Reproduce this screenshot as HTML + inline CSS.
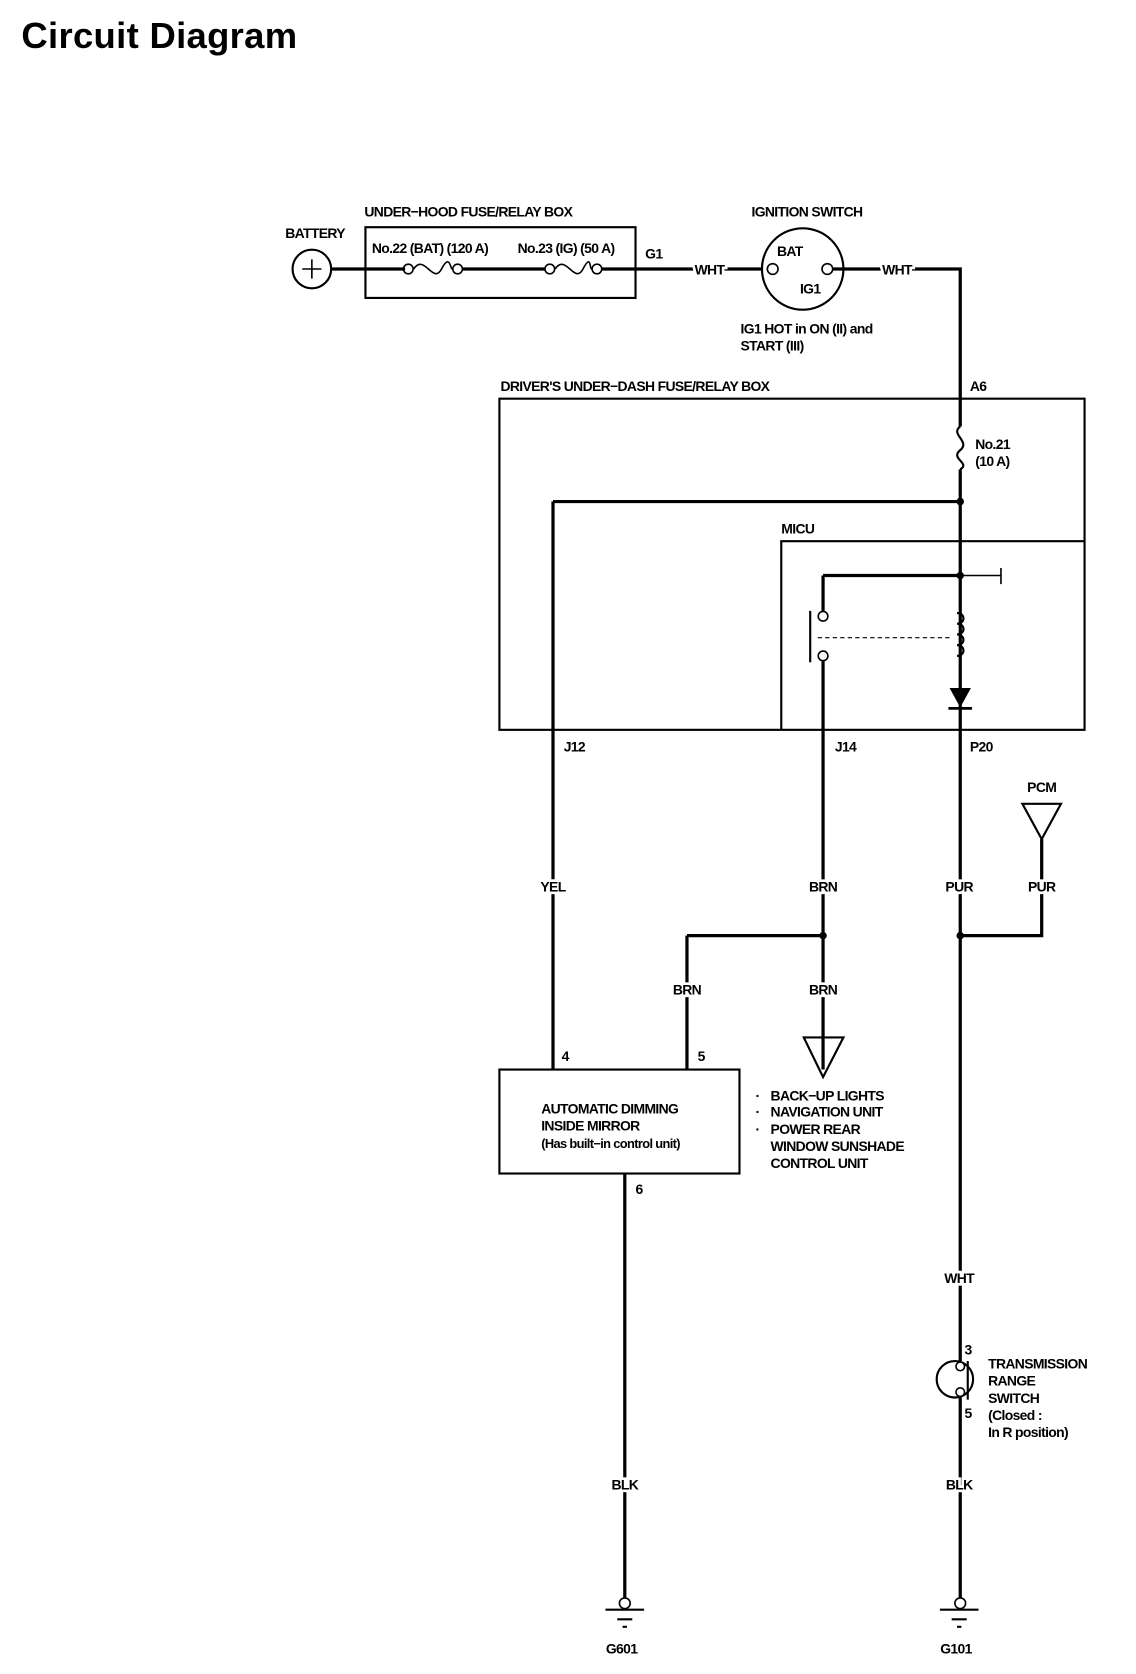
<!DOCTYPE html>
<html><head><meta charset="utf-8"><style>
html,body{margin:0;padding:0;background:#fff;}
svg{display:block;}
text{font-family:"Liberation Sans Narrow","Liberation Sans",sans-serif;font-weight:bold;fill:#000;}
.l{font-size:13px;letter-spacing:-0.6px;}
.w{stroke:#fff;stroke-width:5px;paint-order:stroke;}
</style></head><body>
<svg width="1136" height="1674" viewBox="0 0 1060 1562" xmlns="http://www.w3.org/2000/svg">
<text x="20" y="45" style="font-family:'Liberation Sans',sans-serif;font-size:34px;letter-spacing:0.3px">Circuit Diagram</text>
<g fill="none" stroke="#000" stroke-width="3">
<path d="M309 251H378M432 251H508M562 251H712M772 251H896V372"/>
<path d="M896 372V398M896 438V681M896 681V1270M896 1304V1495"/>
<path d="M516 468H896M516 468V998"/>
<path d="M768 537H896M768 537V570M768 617V998"/>
<path d="M641 873H768M641 873V998"/>
<path d="M972 783V873H896"/>
<path d="M583 1095V1495"/>
</g>
<g fill="none" stroke="#000" stroke-width="2">
<circle cx="291" cy="251" r="18"/>
<rect x="341" y="212" width="252" height="66"/>
<circle cx="749" cy="251" r="38"/>
<rect x="466" y="372" width="546" height="309"/>
<path d="M1012 505H729V681"/>
<rect x="466" y="998" width="224" height="97"/>
<circle cx="891" cy="1287" r="17"/>
<path d="M903 1270V1306"/>
<path d="M756 570V618"/>
<path d="M896 537H934M934 530V545" stroke-width="1.5"/>
<path d="M954 750H990L972 783Z"/>
<path d="M750 968H787L768 1005Z"/>
<path d="M565 1502H601M576 1511H590M581 1518H585"/>
<path d="M877 1502H913M888 1511H902M893 1518H897"/>
</g>
<g fill="none" stroke="#000" stroke-width="1.5">
<path d="M282 251H300M291 242V260"/>
<circle cx="381" cy="251" r="4.5"/><circle cx="427" cy="251" r="4.5"/>
<path d="M386 251C396 236 404 266 412 251S420 251 422 251"/>
<circle cx="513" cy="251" r="4.5"/><circle cx="557" cy="251" r="4.5"/>
<path d="M518 251C528 236 536 266 544 251S550 251 552 251"/>
<circle cx="721" cy="251" r="5" fill="#fff"/><circle cx="772" cy="251" r="5" fill="#fff"/>
<path d="M896 398C886 405 906 412 896 420S906 432 896 438" stroke-width="2"/>
<path d="M893 572c8 0 8 10 0 10c8 0 8 10 0 10c8 0 8 10 0 10c8 0 8 10 0 10" stroke-width="2"/>
<circle cx="768" cy="575" r="4.5" fill="#fff"/><circle cx="768" cy="612" r="4.5" fill="#fff"/>
<path d="M763 595H887" stroke-dasharray="4 3" stroke-width="1"/>
<circle cx="896" cy="1275" r="4" fill="#fff"/><circle cx="896" cy="1299" r="4" fill="#fff"/>
<circle cx="583" cy="1496" r="5" fill="#fff"/><circle cx="896" cy="1496" r="5" fill="#fff"/>
</g>
<path d="M886 642H906L896 660Z" fill="#000"/>
<path d="M885 661H907" stroke="#000" stroke-width="2.5"/>
<g fill="#000"><circle cx="896" cy="468" r="3.5"/><circle cx="896" cy="537" r="3.5"/><circle cx="768" cy="873" r="3.5"/><circle cx="896" cy="873" r="3.5"/></g>
<g class="l">
<text x="294" y="222" text-anchor="middle">BATTERY</text>
<text x="340" y="202">UNDER−HOOD FUSE/RELAY BOX</text>
<text x="347" y="236">No.22 (BAT) (120 A)</text>
<text x="483" y="236">No.23 (IG) (50 A)</text>
<text x="602" y="241">G1</text>
<text x="662" y="256" text-anchor="middle" class="w">WHT</text>
<text x="753" y="202" text-anchor="middle">IGNITION SWITCH</text>
<text x="737" y="239" text-anchor="middle">BAT</text>
<text x="756" y="274" text-anchor="middle">IG1</text>
<text x="837" y="256" text-anchor="middle" class="w">WHT</text>
<text x="691" y="311">IG1 HOT in ON (II) and</text>
<text x="691" y="327">START (III)</text>
<text x="467" y="365">DRIVER'S UNDER−DASH FUSE/RELAY BOX</text>
<text x="905" y="365">A6</text>
<text x="910" y="419">No.21</text>
<text x="910" y="435">(10 A)</text>
<text x="729" y="498">MICU</text>
<text x="526" y="701">J12</text>
<text x="779" y="701">J14</text>
<text x="905" y="701">P20</text>
<text x="972" y="739" text-anchor="middle">PCM</text>
<text x="516" y="832" text-anchor="middle" class="w">YEL</text>
<text x="768" y="832" text-anchor="middle" class="w">BRN</text>
<text x="895" y="832" text-anchor="middle" class="w">PUR</text>
<text x="972" y="832" text-anchor="middle" class="w">PUR</text>
<text x="641" y="928" text-anchor="middle" class="w">BRN</text>
<text x="768" y="928" text-anchor="middle" class="w">BRN</text>
<text x="524" y="990">4</text>
<text x="651" y="990">5</text>
<text x="593" y="1114">6</text>
<text x="505" y="1039">AUTOMATIC DIMMING</text>
<text x="505" y="1055">INSIDE MIRROR</text>
<text x="505" y="1071" style="font-size:12px">(Has built−in control unit)</text>
<text x="705" y="1027">·</text><text x="719" y="1027">BACK−UP LIGHTS</text>
<text x="705" y="1042">·</text><text x="719" y="1042">NAVIGATION UNIT</text>
<text x="705" y="1058">·</text><text x="719" y="1058">POWER REAR</text>
<text x="719" y="1074">WINDOW SUNSHADE</text>
<text x="719" y="1090">CONTROL UNIT</text>
<text x="583" y="1390" text-anchor="middle" class="w">BLK</text>
<text x="580" y="1543" text-anchor="middle">G601</text>
<text x="895" y="1197" text-anchor="middle" class="w">WHT</text>
<text x="900" y="1264">3</text>
<text x="900" y="1323">5</text>
<text x="922" y="1277">TRANSMISSION</text>
<text x="922" y="1293">RANGE</text>
<text x="922" y="1309">SWITCH</text>
<text x="922" y="1325">(Closed :</text>
<text x="922" y="1341">In R position)</text>
<text x="895" y="1390" text-anchor="middle" class="w">BLK</text>
<text x="892" y="1543" text-anchor="middle">G101</text>
</g>
</svg>
</body></html>
